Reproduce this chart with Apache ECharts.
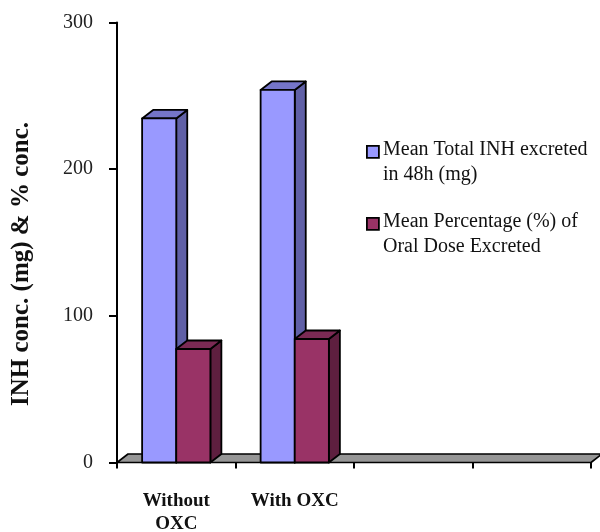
<!DOCTYPE html>
<html>
<head>
<meta charset="utf-8">
<script src="https://cdn.jsdelivr.net/npm/echarts@6/dist/echarts.min.js"></script>
<style>
  html, body { margin: 0; padding: 0; background: #fff; }
  #chart { width: 600px; height: 532px; }
</style>
</head>
<body>
<div id="chart"></div>
<script>
// Categories along the floor (two groups plus two empty slots)
const categories = ['Without\nOXC', 'With OXC', '', ''];
// Series names and values
const seriesNames = ['Mean Total INH excreted\nin 48h (mg)', 'Mean Percentage (%) of\nOral Dose Excreted'];
const totalExcreted = [234.6, 254.0];
const percentExcreted = [77.4, 84.2];
// Value axis
const yTicks = [0, 100, 200, 300];
const yAxisTitle = 'INH conc. (mg) & % conc.';

const SERIF = '"Liberation Serif", "DejaVu Serif", serif';
const DEPTH_X = 11, DEPTH_Y = 8.5;
const BAR_RATIO = 0.288;

const palettes = [
  { front: '#9999FF', side: '#6060A6', top: '#7575C8' },
  { front: '#993366', side: '#5E1F3F', top: '#7B2A54' }
];

const edge = { stroke: '#000', lineWidth: 1.8, lineJoin: 'round' };

function bar3d(seriesIdx) {
  const pal = palettes[seriesIdx];
  return function (params, api) {
    const cat = api.value(0), val = api.value(1);
    const base = api.coord([cat, 0]);
    const top = api.coord([cat, val]);
    const w = api.size([1, 0])[0] * BAR_RATIO;
    const x0 = seriesIdx === 0 ? base[0] - w : base[0];
    const x1 = x0 + w;
    const yb = base[1], yt = top[1];
    return {
      type: 'group',
      children: [
        { type: 'polygon', shape: { points: [[x1, yb], [x1 + DEPTH_X, yb - DEPTH_Y], [x1 + DEPTH_X, yt - DEPTH_Y], [x1, yt]] },
          style: Object.assign({ fill: pal.side }, edge) },
        { type: 'polygon', shape: { points: [[x0, yt], [x1, yt], [x1 + DEPTH_X, yt - DEPTH_Y], [x0 + DEPTH_X, yt - DEPTH_Y]] },
          style: Object.assign({ fill: pal.top }, edge) },
        { type: 'rect', shape: { x: x0, y: yt, width: w, height: yb - yt },
          style: Object.assign({ fill: pal.front }, edge) }
      ]
    };
  };
}

function floor(params, api) {
  const cs = params.coordSys;
  const yb = cs.y + cs.height;
  return {
    type: 'polygon',
    shape: { points: [[cs.x, yb], [cs.x + cs.width, yb], [cs.x + cs.width + DEPTH_X, yb - DEPTH_Y], [cs.x + DEPTH_X, yb - DEPTH_Y]] },
    style: { fill: '#969696', stroke: '#000', lineWidth: 1.6, lineJoin: 'round' }
  };
}

const chart = echarts.init(document.getElementById('chart'), null, { renderer: 'canvas' });

const legendGraphics = [];
const legendTops = [137.5, 209.5];
seriesNames.forEach(function (name, i) {
  legendGraphics.push({
    type: 'rect', left: 366, top: legendTops[i] + 7.5,
    shape: { width: 12, height: 12 },
    style: { fill: palettes[i].front, stroke: '#000', lineWidth: 1.8 }
  });
  legendGraphics.push({
    type: 'text', left: 383, top: legendTops[i],
    style: { text: name, font: '20px ' + SERIF, lineHeight: 25, fill: '#111' }
  });
});

chart.setOption({
  animation: false,
  backgroundColor: '#fff',
  grid: { left: 117, top: 22.5, width: 474, height: 440, containLabel: false, outerBoundsMode: 'none' },
  xAxis: {
    type: 'category',
    data: categories,
    boundaryGap: true,
    axisLine: { show: false },
    axisTick: { show: true, length: 6, lineStyle: { color: '#000', width: 2 } },
    axisLabel: { margin: 27, fontFamily: SERIF, fontSize: 19, fontWeight: 'bold', color: '#111', lineHeight: 23, interval: 0 },
    splitLine: { show: false }
  },
  yAxis: {
    type: 'value',
    min: yTicks[0], max: yTicks[yTicks.length - 1], interval: 100,
    axisLine: { show: true, lineStyle: { color: '#000', width: 2 } },
    axisTick: { show: true, inside: false, length: 8, lineStyle: { color: '#000', width: 2 } },
    axisLabel: { margin: 24, fontFamily: SERIF, fontSize: 20, color: '#222' },
    splitLine: { show: false }
  },
  graphic: legendGraphics.concat([{
    type: 'text', x: 22, y: 264, rotation: Math.PI / 2,
    style: { text: yAxisTitle, font: 'bold 25px ' + SERIF, fill: '#111', align: 'center', verticalAlign: 'middle' }
  }]),
  series: [
    { type: 'custom', name: 'floor', renderItem: floor, data: [[0, 0]], z: 1, silent: true },
    { type: 'custom', name: seriesNames[0], renderItem: bar3d(0), z: 2,
      data: totalExcreted.map(function (v, i) { return [i, v]; }) },
    { type: 'custom', name: seriesNames[1], renderItem: bar3d(1), z: 3,
      data: percentExcreted.map(function (v, i) { return [i, v]; }) }
  ]
});
</script>
</body>
</html>
